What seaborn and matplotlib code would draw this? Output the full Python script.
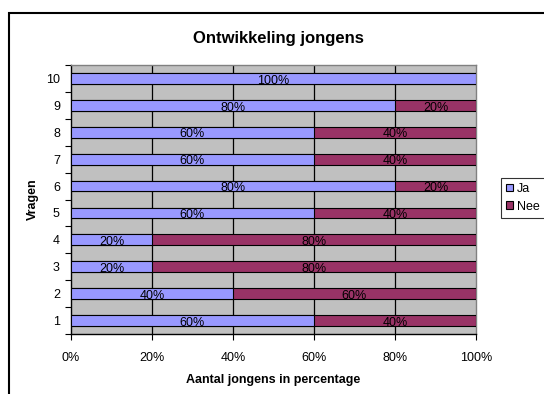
import matplotlib
matplotlib.use("Agg")
import matplotlib.pyplot as plt
import seaborn as sns
import pandas as pd
from matplotlib.patches import Rectangle, Patch

vragen = ["1", "2", "3", "4", "5", "6", "7", "8", "9", "10"]
ja = [60, 40, 20, 20, 60, 80, 60, 60, 80, 100]
nee = [40, 60, 80, 80, 40, 20, 40, 40, 20, 0]
xticks = [0, 20, 40, 60, 80, 100]
xtick_labels = ["0%", "20%", "40%", "60%", "80%", "100%"]

JA_COLOR = "#9999FF"
NEE_COLOR = "#993366"

sns.set_theme(style="white")
plt.rcParams["font.family"] = ["Liberation Sans", "DejaVu Sans"]
plt.rcParams.update({"text.color": "black", "axes.labelcolor": "black",
                     "xtick.color": "black", "ytick.color": "black"})

df = pd.DataFrame({"vraag": vragen, "ja": ja, "nee": nee})
df["totaal"] = df["ja"] + df["nee"]
order = vragen[::-1]

W, H = 544, 394
fig = plt.figure(figsize=(W / 100, H / 100), dpi=100)
fig.patch.set_facecolor("white")
left, right, top, bottom = 71, 476, 65, 334
ax = fig.add_axes([left / W, 1 - bottom / H, (right - left) / W, (bottom - top) / H])
ax.set_facecolor("#C0C0C0")

# stacked bars: full (ja + nee) in the "Nee" colour, then "Ja" on top
sns.barplot(data=df, x="totaal", y="vraag", order=order, orient="h",
            color=NEE_COLOR, saturation=1, width=0.4,
            edgecolor="black", linewidth=0.8, ax=ax, zorder=3)
sns.barplot(data=df, x="ja", y="vraag", order=order, orient="h",
            color=JA_COLOR, saturation=1, width=0.4,
            edgecolor="black", linewidth=0.8, ax=ax, zorder=4)

ax.set_xlim(0, 100)
ax.set_ylim(len(vragen) - 0.5, -0.5)

# segment labels
for i, v in enumerate(order):
    row = df[df["vraag"] == v].iloc[0]
    if row["ja"] > 0:
        ax.text(row["ja"] / 2, i + 0.08, f"{row['ja']}%", ha="center",
                va="center", fontsize=9, color="black", zorder=5)
    if row["nee"] > 0:
        ax.text(row["ja"] + row["nee"] / 2, i + 0.08, f"{row['nee']}%",
                ha="center", va="center", fontsize=9, color="black", zorder=5)

# vertical gridlines
for g in xticks[1:-1]:
    ax.axvline(g, color="black", linewidth=0.9, zorder=2)

ax.set_xticks(xticks)
ax.set_xticklabels(xtick_labels, fontsize=9)
ax.tick_params(axis="x", direction="out", length=4, width=0.8,
               color="black", pad=9, bottom=True)
ax.set_yticks(range(len(order)))
ax.set_yticklabels(order, fontsize=9)
ax.tick_params(axis="y", which="major", length=0, pad=8)
ax.set_yticks([i - 0.5 for i in range(len(order) + 1)], minor=True)
ax.tick_params(axis="y", which="minor", direction="out", length=4,
               width=0.8, color="black", left=True)

for side in ["left", "bottom"]:
    ax.spines[side].set_color("black")
    ax.spines[side].set_linewidth(1)
for side in ["top", "right"]:
    ax.spines[side].set_color("#808080")
    ax.spines[side].set_linewidth(1)

ax.set_xlabel("Aantal jongens in percentage", fontsize=9, fontweight="bold")
ax.xaxis.set_label_coords(0.5, (bottom - 374) / (bottom - top))
ax.set_ylabel("Vragen", fontsize=9, fontweight="bold")
ax.yaxis.set_label_coords((38.5 - left) / (right - left), 0.5)
ax.set_title("Ontwikkeling jongens", fontsize=12, fontweight="bold", pad=15.8,
             x=(278 - left) / (right - left))

handles = [Patch(facecolor=JA_COLOR, edgecolor="black", linewidth=0.8),
           Patch(facecolor=NEE_COLOR, edgecolor="black", linewidth=0.8)]
leg = fig.legend(handles, ["Ja", "Nee"], loc="upper left",
                 bbox_to_anchor=(501 / W, 1 - 178 / H),
                 fontsize=9, frameon=True, fancybox=False, borderpad=0.4,
                 handlelength=0.55, handleheight=0.55, handletextpad=0.35,
                 labelspacing=0.45, borderaxespad=0)
leg.get_frame().set_edgecolor("black")
leg.get_frame().set_linewidth(0.8)

# chart area frame
fig.add_artist(Rectangle((9 / W, -0.1), 1.2, 1 - 13 / H + 0.1,
                         transform=fig.transFigure, fill=False,
                         edgecolor="black", linewidth=1.5, clip_on=False))

fig.savefig("out.png", dpi=100)
